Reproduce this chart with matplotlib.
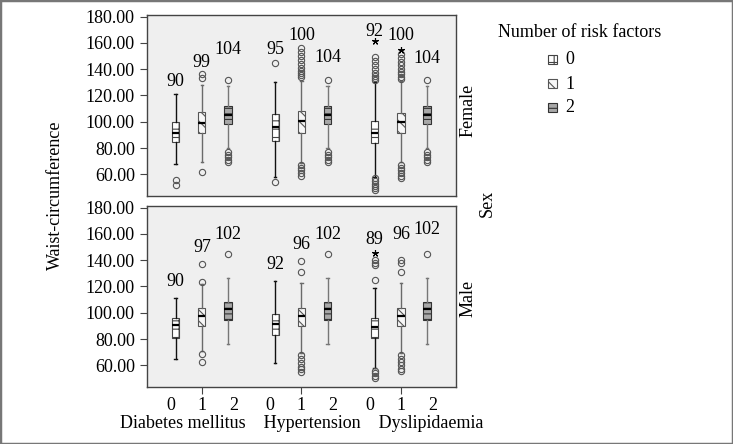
import matplotlib
matplotlib.use("Agg")
import matplotlib.pyplot as plt
from matplotlib.patches import Rectangle

plt.rcParams['font.family'] = ['Liberation Serif', 'DejaVu Serif']
plt.rcParams['hatch.linewidth'] = 0.8

conditions = ["Diabetes mellitus", "Hypertension", "Dyslipidaemia"]
risk_levels = ["0", "1", "2"]
sexes = ["Female", "Male"]

# order of boxes: DM 0,1,2 | HT 0,1,2 | DL 0,1,2
female_lo = [67.6, 69.6, 79.8, 58.0, 68.5, 79.8, 58.0, 69.5, 79.8]
female_q1 = [84.6, 91.7, 98.5, 85.6, 91.8, 98.5, 83.6, 91.8, 98.5]
female_med = [91.5, 99.4, 104.8, 95.9, 100.2, 104.8, 91.3, 99.5, 104.8]
female_q3 = [99.5, 107.2, 112.0, 106.0, 108.5, 112.0, 100.8, 107.0, 112.0]
female_hi = [121.0, 128.0, 127.0, 130.0, 131.0, 127.0, 130.0, 131.0, 127.0]
female_fliers = [
    [55.5, 52.0],
    [62.0, 133.0, 136.0],
    [77.0, 75.0, 73.0, 71.0, 69.0, 132.0],
    [54.5, 144.5],
    [67.0, 65.0, 63.0, 61.0, 59.0, 134.0, 135.5, 137.0, 139.0, 141.0, 144.0, 147.0, 150.0, 153.0, 156.0],
    [77.0, 75.0, 73.0, 71.0, 69.0, 132.0],
    [57.0, 55.0, 53.0, 51.0, 49.5, 48.0, 131.5, 133.0, 135.0, 137.0, 140.0, 143.0, 146.0, 149.5],
    [67.0, 65.0, 63.0, 61.0, 59.0, 57.0, 132.5, 134.0, 136.0, 138.0, 140.0, 143.0, 145.5, 148.5, 151.5],
    [77.0, 75.0, 73.0, 71.0, 69.0, 132.0],
]
female_stars = [[], [], [], [], [], [], [161.8], [155.0], []]
female_labels = [90, 99, 104, 95, 100, 104, 92, 100, 104]
female_label_y = [130.5, 145.0, 154.7, 154.7, 165.3, 149.1, 168.5, 165.3, 147.8]

male_lo = [64.6, 70.9, 76.5, 62.0, 69.6, 76.5, 58.2, 69.6, 76.5]
male_q1 = [80.6, 89.9, 94.7, 82.8, 89.9, 94.7, 81.0, 89.9, 94.7]
male_med = [90.7, 97.5, 102.6, 91.2, 97.5, 102.6, 89.2, 97.5, 102.6]
male_q3 = [95.8, 103.4, 108.4, 99.3, 103.4, 108.4, 96.3, 103.4, 108.4]
male_hi = [111.5, 121.7, 126.3, 124.2, 122.9, 126.3, 119.1, 122.9, 126.3]
male_fliers = [
    [],
    [68.8, 62.7, 123.7, 137.4],
    [144.5],
    [],
    [67.8, 65.0, 62.0, 59.0, 57.0, 55.0, 131.3, 139.4],
    [144.5],
    [56.0, 54.0, 52.0, 50.0, 124.7, 136.4, 138.1, 140.0],
    [67.5, 65.0, 62.5, 60.0, 57.5, 55.5, 131.3, 138.0, 140.0],
    [144.5],
]
male_stars = [[], [], [], [], [], [], [145.8], [], []]
male_labels = [90, 97, 102, 92, 96, 102, 89, 96, 102]
male_label_y = [123.7, 149.6, 159.8, 136.9, 151.6, 159.8, 156.0, 159.8, 163.6]

group_gap = 3.8
positions = [g * group_gap + k for g in range(len(conditions)) for k in range(len(risk_levels))]
centers = [g * group_gap + 1 for g in range(len(conditions))]

box_face = ['white', '#f7f7f7', '#a8a8a8']
box_hatch = ['++', '\\\\\\', '---']
box_edge = ['#444444', '#555555', '#333333']
whisker_col = ['#111111', '#6a6a6a', '#777777']


def draw_panel(ax, lo, q1, med, q3, hi, fliers, stars, labels, label_y):
    stats = []
    for i in range(len(positions)):
        stats.append(dict(whislo=lo[i], q1=q1[i], med=med[i], q3=q3[i],
                          whishi=hi[i], fliers=fliers[i]))
    art = ax.bxp(stats, positions=positions, widths=0.28, patch_artist=True,
                 capwidths=0.1,
                 flierprops=dict(marker='o', mfc='none', mec='#555555', ms=4.5,
                                 mew=0.8, linestyle='none'),
                 medianprops=dict(color='black', lw=1.6))
    for i, box in enumerate(art['boxes']):
        r = i % 3
        box.set_facecolor(box_face[r])
        box.set_hatch(box_hatch[r])
        box.set_edgecolor(box_edge[r])
        box.set_linewidth(0.8)
        for ln in art['whiskers'][2 * i:2 * i + 2] + art['caps'][2 * i:2 * i + 2]:
            ln.set_color(whisker_col[r])
            ln.set_linewidth(1.0)
    for i, s in enumerate(stars):
        if s:
            ax.plot([positions[i]] * len(s), s, linestyle='none', marker=(5, 2, 0),
                    ms=5, mec='black', mew=0.8)
    for i, lab in enumerate(labels):
        ax.text(positions[i], label_y[i], str(lab), ha='center', va='center', fontsize=13)

    ax.set_facecolor('#efefef')
    ax.set_xlim(-1.08, positions[-1] + 1.1)
    ax.set_ylim(43.5, 181.3)
    ax.set_yticks([60, 80, 100, 120, 140, 160, 180])
    ax.set_yticklabels([f"{v:.2f}" for v in [60, 80, 100, 120, 140, 160, 180]])
    ax.tick_params(axis='y', labelsize=13, length=5, width=0.8, pad=4, color='#444444')
    for sp in ax.spines.values():
        sp.set_color('#444444')
        sp.set_linewidth(1.0)


fig = plt.figure(figsize=(7.33, 4.44), dpi=100)
ax_top = fig.add_axes([0.201, 0.5586, 0.421, 0.4077])
ax_bot = fig.add_axes([0.201, 0.1284, 0.421, 0.4077])

draw_panel(ax_top, female_lo, female_q1, female_med, female_q3, female_hi,
           female_fliers, female_stars, female_labels, female_label_y)
draw_panel(ax_bot, male_lo, male_q1, male_med, male_q3, male_hi,
           male_fliers, male_stars, male_labels, male_label_y)

ax_top.set_xticks([])
ax_bot.set_xticks(centers)
ax_bot.set_xticklabels([risk_levels[1]] * len(centers))
ax_bot.set_xticks([c + d for c in centers for d in (-1.2, 1.2)], minor=True)
ax_bot.set_xticklabels([risk_levels[0], risk_levels[2]] * len(centers), minor=True)
ax_bot.tick_params(axis='x', which='major', labelsize=13, length=5, width=0.8, pad=2, color='#444444')
ax_bot.tick_params(axis='x', which='minor', labelsize=13, length=0, pad=7)
ax_bot.set_xlabel("    ".join(conditions), fontsize=13, labelpad=1)

fig.text(55 / 733, 1 - 195 / 444, "Waist-circumference", rotation=90, ha='center', va='center', fontsize=13)
fig.text(468 / 733, 1 - 110 / 444, sexes[0], rotation=90, ha='center', va='center', fontsize=13)
fig.text(468 / 733, 1 - 298 / 444, sexes[1], rotation=90, ha='center', va='center', fontsize=13)
fig.text(487 / 733, 1 - 203 / 444, "Sex", rotation=90, ha='center', va='center', fontsize=13)

# legend
fig.text(498 / 733, 1 - 32.5 / 444, "Number of risk factors", ha='left', va='center', fontsize=13)
for r, lev in enumerate(risk_levels):
    yc = 60 + r * 24
    fig.add_artist(Rectangle((548 / 733, 1 - (yc + 4.5) / 444), 9 / 733, 9 / 444,
                             transform=fig.transFigure, facecolor=box_face[r],
                             hatch=box_hatch[r], edgecolor=box_edge[r], lw=0.8))
    fig.text(565 / 733, 1 - yc / 444, lev, ha='left', va='center', fontsize=13)

fig.add_artist(Rectangle((0, 0), 1, 1, transform=fig.transFigure, fill=False,
                         edgecolor='#777777', lw=2.5))

fig.savefig("out.png", dpi=100)
